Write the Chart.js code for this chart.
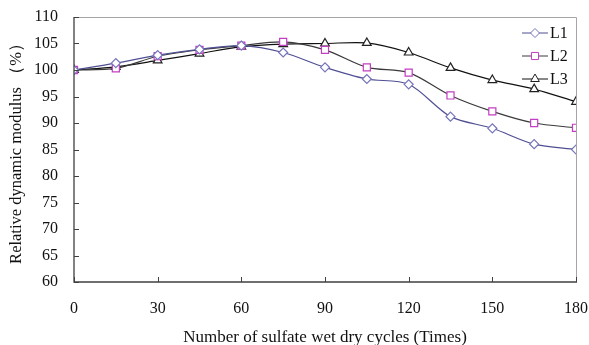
<!DOCTYPE html>
<html>
<head>
<meta charset="utf-8">
<script src="https://cdn.jsdelivr.net/npm/chart.js@4"></script>
<style>
  html, body { margin: 0; padding: 0; background: #fff; }
  #wrap { width: 589px; height: 345px; position: relative; }
</style>
</head>
<body>
<div id="wrap"><canvas id="linechart"></canvas></div>
<script>
const cycles = [0, 15, 30, 45, 60, 75, 90, 105, 120, 135, 150, 165, 180];
const l1 = [100, 101.3, 102.8, 103.9, 104.6, 103.3, 100.5, 98.3, 97.3, 91.2, 89.0, 86.0, 85.0];
const l2 = [100, 100.3, 102.6, 103.8, 104.6, 105.3, 103.8, 100.5, 99.5, 95.2, 92.2, 90.0, 89.1];
const l3 = [100, 100.6, 101.8, 103.1, 104.4, 104.9, 105.0, 105.1, 103.3, 100.4, 98.1, 96.4, 94.0];
const yTicks = [60, 65, 70, 75, 80, 85, 90, 95, 100, 105, 110];
const xTicks = [0, 30, 60, 90, 120, 150, 180];

const serif = '"Liberation Serif", "Times New Roman", serif';

// frame, inward tick marks and the little legend in the top right corner
const decor = {
  id: 'decor',
  afterDatasetsDraw(chart) {
    const ctx = chart.ctx;
    const a = chart.chartArea;
    const xs = chart.scales.x, ys = chart.scales.y;
    ctx.save();
    ctx.lineWidth = 1;
    ctx.strokeStyle = '#a6a6a6';
    ctx.beginPath();
    ctx.moveTo(a.left, a.top + 0.5);
    ctx.lineTo(a.right + 0.5, a.top + 0.5);
    ctx.lineTo(a.right + 0.5, a.bottom);
    ctx.stroke();
    ctx.strokeStyle = '#404040';
    ctx.lineWidth = 1.3;
    ctx.beginPath();
    ctx.moveTo(a.left, a.top);
    ctx.lineTo(a.left, a.bottom);
    ctx.lineTo(a.right + 1, a.bottom);
    ctx.stroke();
    ctx.lineWidth = 1;
    ctx.beginPath();
    yTicks.forEach(v => {
      const y = Math.round(ys.getPixelForValue(v)) + 0.5;
      ctx.moveTo(a.left, y); ctx.lineTo(a.left + 5, y);
    });
    xTicks.forEach(v => {
      const x = Math.round(xs.getPixelForValue(v)) + 0.5;
      ctx.moveTo(x, a.bottom); ctx.lineTo(x, a.bottom - 5);
    });
    ctx.stroke();

    // legend
    chart.data.datasets.forEach((ds, i) => {
      const y = a.top + 16 + i * 23;
      const x0 = a.right - 54, x1 = a.right - 28;
      ctx.strokeStyle = ds.borderColor;
      ctx.lineWidth = 1;
      ctx.beginPath(); ctx.moveTo(x0, y); ctx.lineTo(x1, y); ctx.stroke();
      ctx.fillStyle = ds.pointBackgroundColor;
      ctx.strokeStyle = ds.pointBorderColor;
      Chart.helpers.drawPoint(ctx, {
        pointStyle: ds.pointStyle, radius: ds.pointRadius, borderWidth: 1, rotation: 0
      }, (x0 + x1) / 2, y);
      ctx.fillStyle = '#111';
      ctx.font = '16px ' + serif;
      ctx.textAlign = 'left';
      ctx.textBaseline = 'middle';
      ctx.fillText(ds.label, x1 + 2, y + 1);
    });
    ctx.restore();
  }
};

const ctx1 = document.getElementById('linechart');

const linechart = new Chart(ctx1, {
  type: 'line',
  data: {
    datasets: [{
      label: 'L1',
      data: cycles.map((c, i) => ({x: c, y: l1[i]})),
      borderColor: '#4f4f93',
      pointBorderColor: '#7474bb',
      pointBackgroundColor: '#ffffff',
      pointStyle: 'rectRot',
      pointRadius: 4.5,
      borderWidth: 1.2,
      tension: 0.3
    }, {
      label: 'L2',
      data: cycles.map((c, i) => ({x: c, y: l2[i]})),
      borderColor: '#3a3a3a',
      pointBorderColor: '#c23ec2',
      pointBackgroundColor: '#ffffff',
      pointStyle: 'rect',
      pointRadius: 5,
      borderWidth: 1.2,
      tension: 0.3
    }, {
      label: 'L3',
      data: cycles.map((c, i) => ({x: c, y: l3[i]})),
      borderColor: '#111111',
      pointBorderColor: '#222222',
      pointBackgroundColor: '#ffffff',
      pointStyle: 'triangle',
      pointRadius: 5,
      borderWidth: 1.2,
      tension: 0.3
    }]
  },
  options: {
    responsive: true,
    maintainAspectRatio: false,
    animation: false,
    layout: { padding: { top: 17, right: 13, left: 0, bottom: 0 } },
    plugins: { legend: { display: false }, tooltip: { enabled: false } },
    scales: {
      x: {
        type: 'linear',
        min: 0, max: 180,
        afterBuildTicks: s => { s.ticks = xTicks.map(v => ({value: v})); },
        afterFit: s => { s.height = 63; s.paddingLeft = 0; s.paddingRight = 0; },
        grid: { display: false, drawTicks: false },
        border: { display: false },
        ticks: { padding: 17, color: '#111', font: { family: serif, size: 16 } },
        title: {
          display: true,
          text: 'Number of sulfate wet dry cycles (Times)',
          color: '#111',
          font: { family: serif, size: 17 },
          padding: { top: 7, bottom: -3 }
        }
      },
      y: {
        min: 60, max: 110,
        afterBuildTicks: s => { s.ticks = yTicks.map(v => ({value: v})); },
        afterFit: s => { s.width = 74; s.paddingTop = 0; s.paddingBottom = 0; },
        grid: { display: false, drawTicks: false },
        border: { display: false },
        ticks: { padding: 16, color: '#111', font: { family: serif, size: 16 } },
        title: {
          display: true,
          text: 'Relative dynamic modulus （%）',
          color: '#111',
          font: { family: serif, size: 16.5 },
          padding: { top: 7, bottom: 0 }
        }
      }
    }
  },
  plugins: [decor]
});
</script>
</body>
</html>
